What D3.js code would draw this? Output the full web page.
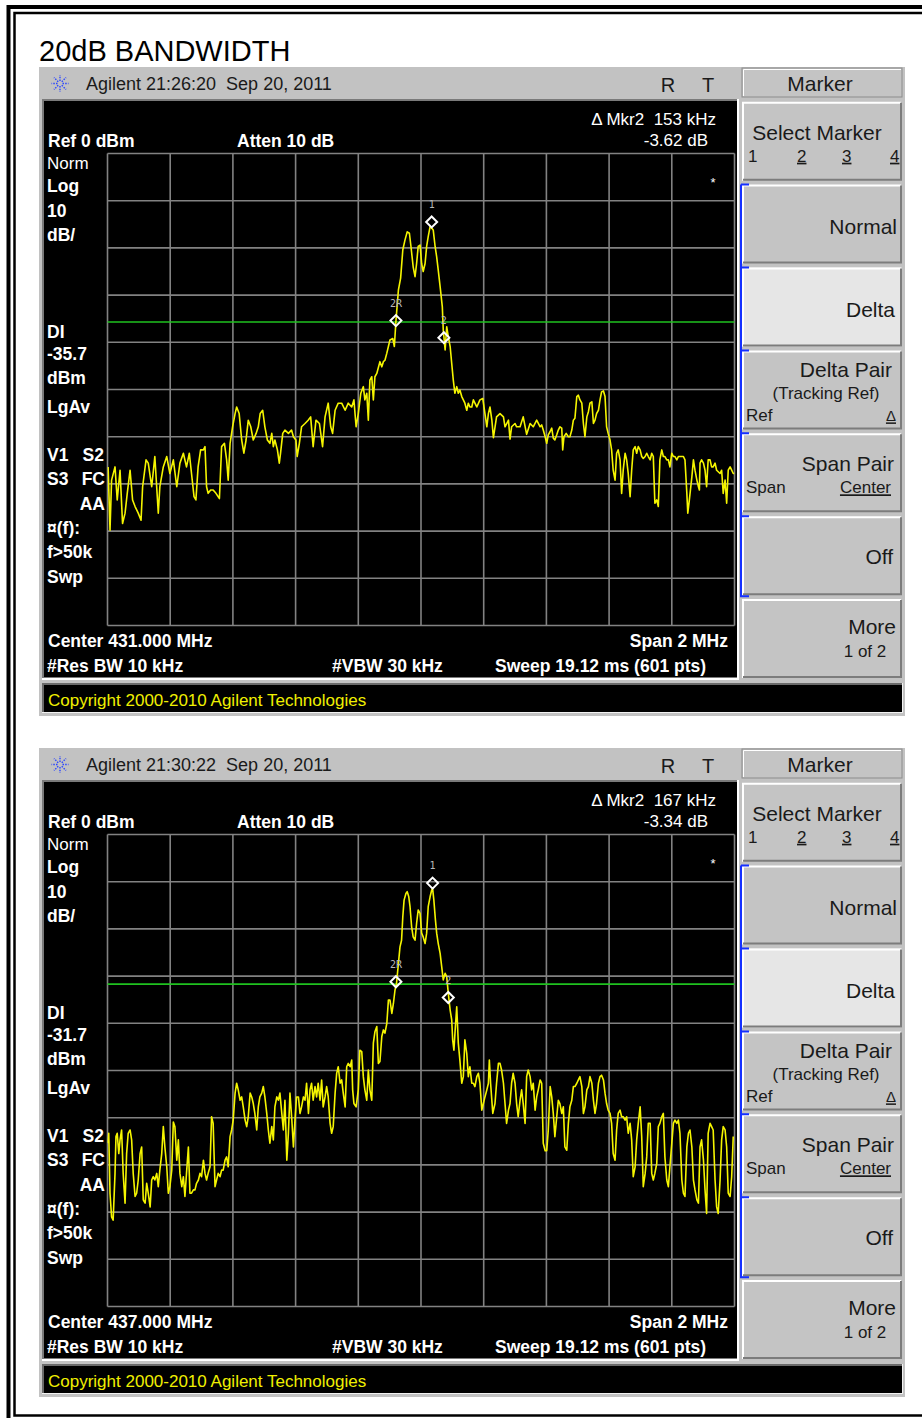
<!DOCTYPE html>
<html lang="en">
<head>
<meta charset="UTF-8">
<title>20dB Bandwidth</title>
<script src="https://d3js.org/d3.v7.min.js"></script>
<style>
  body { margin: 0; background: #fff; }
  svg { display: block; }
  text { font-family: "Liberation Sans", Arial, sans-serif; white-space: pre; }
</style>
</head>
<body>
<svg width="922" height="1418"></svg>
<script>
const times = ["21:26:20", "21:30:22"];
const centers = ["431.000", "437.000"];
const displayLines = [-35.7, -31.7];          // dBm
const deltaKhz = [153, 167];
const deltaDb = [-3.62, -3.34];
const marker1 = [[34, -14.5], [37, -10.3]];    // [kHz offset, dBm]
const marker2R = [[-80, -35.4], [-80, -31.2]];
const softkeys = ["Select Marker", "Normal", "Delta", "Delta Pair", "Span Pair", "Off", "More"];

// trace points: [kHz offset from center, dBm]
const trace1 = [[-998,-66.4],[-992,-79.8],[-987,-69.2],[-976,-66.4],[-969,-73.4],[-960,-67.1],[-952,-78.4],[-944,-76.2],[-937,-72.0],[-928,-67.1],[-920,-73.4],[-912,-74.8],[-902,-76.2],[-893,-77.7],[-888,-70.6],[-877,-64.9],[-870,-65.6],[-859,-70.6],[-849,-64.2],[-838,-76.2],[-833,-70.6],[-822,-66.4],[-811,-64.2],[-801,-67.8],[-790,-64.9],[-779,-70.6],[-769,-65.6],[-758,-63.5],[-748,-66.4],[-739,-63.5],[-732,-67.8],[-724,-72.7],[-718,-73.4],[-711,-66.4],[-703,-62.8],[-694,-62.8],[-689,-62.1],[-684,-70.6],[-679,-72.0],[-671,-71.3],[-663,-71.3],[-654,-72.0],[-643,-73.1],[-636,-62.1],[-627,-61.4],[-620,-64.9],[-615,-69.2],[-609,-61.4],[-601,-57.9],[-593,-55.1],[-588,-53.7],[-580,-55.1],[-572,-60.7],[-565,-63.5],[-558,-60.7],[-551,-56.5],[-543,-57.9],[-535,-60.7],[-526,-59.3],[-519,-57.9],[-513,-55.1],[-505,-54.4],[-498,-57.9],[-490,-60.7],[-482,-61.4],[-476,-59.3],[-471,-62.1],[-466,-60.7],[-458,-62.8],[-452,-65.6],[-448,-63.5],[-441,-59.3],[-434,-58.6],[-423,-59.3],[-413,-58.6],[-407,-60.0],[-399,-60.7],[-395,-64.2],[-388,-61.4],[-381,-57.9],[-370,-57.2],[-360,-56.5],[-352,-55.8],[-344,-62.1],[-335,-56.5],[-324,-57.2],[-314,-62.1],[-306,-55.8],[-296,-52.9],[-288,-57.9],[-282,-59.3],[-274,-54.4],[-264,-52.9],[-253,-52.9],[-242,-54.4],[-232,-52.9],[-221,-53.7],[-214,-52.2],[-207,-57.9],[-200,-55.1],[-192,-50.8],[-184,-49.4],[-179,-52.2],[-173,-50.8],[-168,-56.5],[-163,-48.0],[-157,-47.3],[-152,-52.2],[-147,-47.3],[-141,-46.6],[-131,-44.1],[-125,-45.2],[-120,-44.1],[-115,-43.8],[-109,-42.3],[-104,-40.9],[-99,-39.5],[-90,-39.2],[-85,-40.9],[-80,-35.6],[-78,-33.9],[-72,-28.9],[-65,-26.4],[-58,-20.4],[-51,-18.3],[-44,-16.6],[-37,-16.9],[-32,-19.7],[-25,-24.0],[-19,-26.1],[-14,-23.3],[-9,-19.7],[-3,-19.4],[2,-23.3],[7,-25.0],[13,-23.3],[18,-19.7],[23,-17.6],[29,-15.5],[34,-15.8],[39,-16.2],[45,-19.7],[50,-21.9],[55,-24.7],[61,-28.2],[68,-32.5],[71,-37.4],[77,-41.6],[82,-36.7],[87,-38.8],[93,-40.9],[98,-44.5],[103,-48.0],[108,-50.8],[114,-49.4],[119,-50.8],[124,-50.1],[130,-51.5],[135,-52.2],[140,-52.9],[146,-54.4],[151,-52.9],[156,-53.7],[162,-53.7],[167,-52.2],[178,-53.7],[188,-52.2],[197,-51.9],[204,-55.1],[210,-57.9],[215,-55.1],[220,-53.7],[226,-56.5],[231,-60.2],[241,-55.8],[252,-55.1],[263,-55.8],[268,-57.9],[279,-56.5],[284,-60.5],[289,-57.9],[300,-57.2],[305,-57.9],[316,-57.9],[326,-55.8],[337,-59.5],[348,-57.2],[358,-57.9],[369,-56.5],[380,-57.9],[385,-57.5],[390,-58.6],[396,-60.0],[401,-61.4],[406,-59.6],[412,-58.9],[417,-58.2],[422,-60.3],[427,-60.7],[433,-59.6],[438,-58.6],[443,-57.9],[449,-58.2],[452,-62.8],[456,-60.0],[463,-59.3],[470,-60.0],[475,-60.0],[481,-58.6],[486,-56.5],[491,-56.1],[497,-51.5],[502,-51.2],[507,-52.2],[513,-52.9],[518,-57.2],[523,-60.0],[529,-55.8],[534,-54.7],[539,-52.9],[545,-52.6],[550,-57.2],[555,-56.5],[560,-55.1],[566,-54.4],[571,-52.2],[576,-50.5],[582,-50.3],[587,-51.5],[592,-57.9],[597,-59.3],[603,-60.7],[608,-62.8],[613,-67.1],[619,-69.2],[624,-63.5],[629,-62.8],[635,-64.9],[640,-72.0],[645,-67.1],[651,-63.5],[656,-64.9],[661,-67.8],[667,-72.7],[672,-67.1],[677,-62.8],[683,-62.1],[688,-63.5],[693,-62.1],[699,-62.8],[704,-64.2],[709,-64.6],[715,-64.2],[720,-63.5],[725,-64.2],[731,-64.9],[736,-63.5],[741,-64.2],[746,-74.1],[752,-73.4],[757,-74.8],[762,-64.9],[768,-62.8],[773,-64.2],[778,-64.2],[784,-64.9],[789,-64.9],[794,-66.4],[800,-63.5],[805,-64.2],[810,-64.2],[816,-64.9],[821,-64.2],[826,-64.2],[837,-64.2],[842,-64.9],[848,-72.0],[851,-76.2],[856,-73.4],[864,-68.5],[869,-64.9],[874,-67.1],[880,-69.2],[885,-70.6],[888,-71.3],[890,-65.6],[895,-64.9],[901,-65.6],[906,-67.1],[911,-70.6],[916,-64.9],[922,-64.9],[927,-66.4],[932,-66.4],[938,-65.6],[943,-67.1],[954,-67.8],[959,-67.1],[964,-72.0],[970,-69.2],[975,-74.1],[980,-67.1],[986,-66.4],[991,-67.1],[996,-67.8],[1000,-67.8]];

const trace2 = [[-1000,-65.4],[-996,-63.3],[-992,-76.0],[-987,-81.0],[-982,-81.7],[-976,-71.8],[-973,-64.0],[-969,-63.3],[-964,-67.6],[-960,-64.7],[-955,-62.6],[-950,-71.8],[-944,-78.1],[-939,-67.6],[-934,-63.3],[-928,-62.6],[-923,-64.7],[-918,-71.8],[-912,-76.7],[-907,-76.0],[-902,-73.2],[-896,-67.6],[-891,-66.2],[-886,-77.4],[-880,-78.1],[-875,-73.9],[-870,-76.0],[-864,-78.9],[-859,-73.2],[-854,-72.5],[-849,-73.2],[-843,-71.8],[-838,-74.6],[-833,-71.1],[-827,-67.6],[-822,-61.9],[-817,-66.2],[-811,-70.4],[-806,-76.0],[-801,-74.6],[-795,-71.1],[-790,-60.9],[-785,-61.9],[-779,-69.0],[-774,-64.7],[-769,-71.8],[-763,-74.6],[-758,-72.5],[-753,-76.7],[-748,-71.8],[-742,-66.2],[-737,-76.0],[-732,-76.0],[-726,-75.3],[-721,-75.3],[-716,-73.9],[-710,-73.2],[-705,-71.8],[-700,-72.5],[-694,-69.0],[-689,-71.8],[-684,-73.2],[-679,-71.8],[-673,-70.4],[-668,-59.8],[-663,-61.2],[-657,-74.6],[-652,-73.2],[-647,-71.8],[-641,-72.5],[-636,-71.1],[-631,-71.1],[-625,-69.0],[-620,-68.3],[-615,-70.4],[-609,-64.0],[-604,-62.6],[-599,-60.5],[-593,-54.8],[-588,-52.7],[-583,-54.1],[-577,-56.3],[-572,-55.6],[-567,-57.7],[-561,-60.5],[-556,-61.9],[-551,-59.8],[-545,-54.8],[-540,-55.6],[-535,-57.0],[-530,-59.1],[-524,-62.6],[-519,-57.7],[-514,-55.6],[-508,-54.8],[-503,-53.4],[-498,-55.6],[-492,-59.1],[-487,-62.6],[-482,-65.4],[-476,-61.9],[-471,-64.7],[-466,-57.7],[-460,-55.6],[-455,-56.3],[-450,-54.8],[-444,-59.1],[-439,-62.6],[-434,-56.3],[-428,-69.0],[-423,-63.3],[-418,-54.8],[-412,-60.5],[-407,-66.2],[-402,-60.5],[-397,-55.6],[-391,-55.6],[-386,-59.1],[-381,-57.7],[-375,-55.6],[-370,-56.3],[-365,-52.7],[-359,-59.1],[-354,-54.1],[-349,-52.7],[-344,-56.3],[-338,-53.4],[-333,-55.6],[-328,-52.7],[-322,-56.3],[-317,-52.0],[-312,-57.7],[-306,-55.6],[-301,-53.4],[-296,-55.6],[-290,-61.2],[-285,-63.3],[-280,-61.9],[-274,-54.8],[-269,-50.6],[-264,-49.2],[-258,-52.7],[-253,-52.0],[-248,-54.8],[-242,-57.7],[-237,-49.2],[-232,-48.5],[-226,-49.2],[-221,-47.8],[-218,-54.1],[-214,-57.0],[-207,-57.7],[-200,-54.1],[-195,-45.7],[-189,-46.0],[-184,-51.3],[-179,-54.1],[-173,-56.3],[-168,-49.9],[-163,-54.1],[-157,-56.3],[-152,-44.2],[-147,-41.8],[-141,-40.7],[-136,-48.5],[-131,-48.1],[-125,-42.8],[-120,-41.4],[-115,-42.1],[-109,-40.0],[-104,-35.1],[-99,-35.1],[-93,-37.9],[-88,-35.8],[-83,-33.0],[-78,-31.5],[-72,-27.3],[-67,-23.8],[-62,-22.4],[-58,-17.4],[-54,-13.9],[-48,-12.5],[-44,-12.1],[-39,-13.2],[-35,-15.3],[-30,-19.5],[-25,-21.7],[-19,-22.4],[-14,-18.8],[-9,-16.0],[-3,-16.7],[2,-20.9],[7,-21.7],[13,-23.1],[18,-20.9],[23,-15.3],[29,-13.2],[34,-11.8],[37,-11.4],[41,-13.9],[46,-18.1],[50,-20.9],[55,-23.1],[61,-25.2],[66,-28.0],[71,-30.8],[77,-29.4],[82,-30.1],[87,-33.6],[93,-37.2],[98,-39.3],[101,-43.5],[105,-45.7],[109,-41.4],[114,-36.5],[119,-44.2],[124,-47.8],[130,-52.7],[135,-51.3],[140,-43.5],[146,-46.4],[151,-51.3],[156,-49.2],[162,-52.7],[167,-52.7],[172,-53.4],[178,-51.3],[183,-50.6],[188,-52.7],[194,-58.4],[199,-57.0],[204,-55.6],[210,-54.1],[215,-52.7],[218,-47.8],[222,-52.7],[229,-59.1],[236,-57.0],[241,-52.7],[247,-48.5],[252,-48.5],[257,-49.9],[263,-52.7],[268,-57.0],[273,-61.2],[279,-58.4],[284,-57.0],[289,-52.7],[294,-50.6],[300,-52.7],[305,-57.0],[310,-59.8],[316,-56.3],[321,-54.1],[326,-57.0],[332,-61.2],[337,-51.3],[342,-49.9],[348,-51.3],[353,-54.1],[358,-52.7],[364,-58.4],[369,-55.6],[374,-54.1],[380,-52.0],[385,-52.7],[390,-65.4],[396,-67.0],[401,-67.0],[406,-62.6],[412,-53.4],[417,-55.6],[422,-59.1],[427,-64.0],[433,-59.8],[438,-56.3],[443,-57.0],[449,-59.1],[454,-57.7],[459,-66.2],[465,-66.9],[470,-61.2],[475,-57.7],[481,-56.3],[486,-53.4],[491,-53.4],[497,-52.7],[502,-52.0],[507,-51.3],[513,-53.4],[518,-59.1],[523,-57.7],[529,-54.1],[534,-53.4],[539,-51.3],[545,-52.7],[550,-56.3],[555,-59.1],[560,-57.0],[566,-52.7],[571,-51.3],[576,-51.0],[582,-52.0],[587,-54.8],[592,-57.0],[597,-58.4],[603,-59.1],[608,-61.2],[613,-67.6],[619,-69.0],[624,-62.6],[629,-59.1],[635,-58.4],[640,-59.8],[645,-59.8],[651,-60.5],[656,-59.8],[661,-63.3],[667,-61.2],[672,-64.7],[677,-72.5],[683,-70.4],[688,-64.7],[693,-61.2],[699,-57.7],[704,-64.0],[709,-74.6],[715,-71.8],[720,-68.3],[725,-61.2],[731,-61.2],[736,-71.8],[741,-73.2],[746,-71.8],[752,-69.7],[757,-61.9],[762,-61.2],[768,-59.8],[773,-59.1],[778,-68.3],[784,-73.2],[789,-74.6],[794,-70.4],[800,-65.4],[805,-61.2],[810,-60.5],[816,-61.2],[821,-60.5],[826,-63.3],[832,-73.2],[837,-76.0],[842,-76.7],[848,-66.2],[853,-63.3],[858,-62.6],[864,-66.2],[869,-73.2],[874,-75.3],[880,-77.4],[885,-78.1],[890,-66.2],[895,-64.7],[901,-69.0],[906,-75.3],[911,-80.3],[916,-63.3],[922,-61.2],[927,-61.9],[932,-62.6],[938,-73.2],[943,-78.9],[948,-80.3],[954,-73.2],[959,-64.7],[964,-61.9],[970,-62.6],[975,-66.2],[980,-76.0],[986,-76.7],[991,-72.5],[996,-64.0]];

const traces = [trace1, trace2];

const svg = d3.select("svg");
svg.append("rect").attr("width", 922).attr("height", 1418).attr("fill", "#fff");

// double page border
svg.append("rect").attr("x", 8.5).attr("y", 7).attr("width", 940).attr("height", 1430)
  .attr("fill", "none").attr("stroke", "#000").attr("stroke-width", 4);
svg.append("rect").attr("x", 14.5).attr("y", 13).attr("width", 930).attr("height", 1402.5)
  .attr("fill", "none").attr("stroke", "#000").attr("stroke-width", 2.5);

svg.append("text").attr("x", 39).attr("y", 61).attr("font-size", 29).attr("fill", "#000")
  .text("20dB BANDWIDTH");

function label(g, x, y, s, o = {}) {
  return g.append("text").attr("x", x).attr("y", y).text(s)
    .attr("font-size", o.size || 17.5)
    .attr("font-weight", o.bold ? "bold" : null)
    .attr("text-anchor", o.anchor || "start")
    .attr("fill", o.fill || "#fff")
    .attr("text-decoration", o.underline ? "underline" : null);
}

// scales shared by both screens (local panel coords)
const x = d3.scaleLinear().domain([-1000, 1000]).range([107.5, 734.5]);
const y = d3.scaleLinear().domain([-100, 0]).range([625.5, 153.5]);

function drawPanel(i, dy) {
  const g = svg.append("g").attr("transform", `translate(0,${dy})`);

  // gray instrument frame
  g.append("rect").attr("x", 39).attr("y", 67).attr("width", 866).attr("height", 649).attr("fill", "#c2c2c2");

  // title bar
  const logo = g.append("g").attr("transform", "translate(60,83.5)");
  d3.range(8).forEach(k => {
    const a = k * Math.PI / 4;
    logo.append("line")
      .attr("x1", Math.cos(a) * 2.5).attr("y1", Math.sin(a) * 2.5)
      .attr("x2", Math.cos(a) * 8.5).attr("y2", Math.sin(a) * 8.5)
      .attr("stroke", "#2b45ff").attr("stroke-width", 1.4).attr("stroke-dasharray", "1.5,1.2");
  });
  label(g, 86, 90, "Agilent " + times[i] + "  Sep 20, 2011", { size: 18, fill: "#1a1a1a" });
  label(g, 668, 92, "R", { size: 20, fill: "#1a1a1a", anchor: "middle" });
  label(g, 708, 92, "T", { size: 20, fill: "#1a1a1a", anchor: "middle" });

  // screen
  g.append("rect").attr("x", 42).attr("y", 99).attr("width", 697).attr("height", 581).attr("fill", "#fff");
  g.append("rect").attr("x", 42).attr("y", 99).attr("width", 695).attr("height", 579).attr("fill", "#7a7a7a");
  g.append("rect").attr("x", 44).attr("y", 101).attr("width", 693).attr("height", 576).attr("fill", "#000");

  // copyright bar
  g.append("rect").attr("x", 42).attr("y", 683).attr("width", 861).attr("height", 30).attr("fill", "#f2f2f2");
  g.append("rect").attr("x", 42).attr("y", 683).attr("width", 860).attr("height", 29).attr("fill", "#6a6a6a");
  g.append("rect").attr("x", 44).attr("y", 685).attr("width", 858).attr("height", 27).attr("fill", "#000");
  label(g, 48, 706, "Copyright 2000-2010 Agilent Technologies", { size: 17, fill: "#f0f000" });

  // graticule
  const grid = g.append("g").attr("stroke", "#828282").attr("stroke-width", 1.6);
  grid.selectAll(".vx").data(x.ticks(10)).join("line")
    .attr("x1", d => x(d)).attr("x2", d => x(d)).attr("y1", y(0)).attr("y2", y(-100));
  grid.selectAll(".hy").data(y.ticks(10)).join("line")
    .attr("y1", d => y(d)).attr("y2", d => y(d)).attr("x1", x(-1000)).attr("x2", x(1000));

  // display line
  g.append("line").attr("x1", x(-1000)).attr("x2", x(1000))
    .attr("y1", y(displayLines[i])).attr("y2", y(displayLines[i]))
    .attr("stroke", "#1fc21f").attr("stroke-width", 1.6);

  // trace
  const clipId = "clip" + i;
  g.append("clipPath").attr("id", clipId).append("rect")
    .attr("x", x(-1000)).attr("y", y(0)).attr("width", x(1000) - x(-1000)).attr("height", y(-100) - y(0));
  g.append("path").datum(traces[i])
    .attr("clip-path", `url(#${clipId})`)
    .attr("fill", "none").attr("stroke", "#f5f500").attr("stroke-width", 1.6)
    .attr("stroke-linejoin", "round")
    .attr("d", d3.line().x(d => x(d[0])).y(d => y(d[1])));

  // markers
  const m2 = [marker2R[i][0] + deltaKhz[i], marker2R[i][1] + deltaDb[i]];
  const mk = [[marker1[i], "1"], [marker2R[i], "2R"], [m2, "2"]];
  mk.forEach(([p, name]) => {
    const cx = x(p[0]), cy = y(p[1]);
    g.append("path")
      .attr("d", `M${cx},${cy - 5.5}L${cx + 5.5},${cy}L${cx},${cy + 5.5}L${cx - 5.5},${cy}Z`)
      .attr("fill", "none").attr("stroke", "#fff").attr("stroke-width", 2);
    label(g, cx, cy - 14, name, { size: 10, fill: "#b8b8b8", anchor: "middle" })
      .style("font-family", "'DejaVu Sans Mono', monospace");
  });

  // screen annotations
  label(g, 48, 147, "Ref 0 dBm", { bold: true });
  label(g, 237, 147, "Atten 10 dB", { bold: true });
  label(g, 716, 125, "\u0394 Mkr2  " + deltaKhz[i] + " kHz", { size: 17, anchor: "end" });
  label(g, 708, 146, deltaDb[i].toFixed(2) + " dB", { size: 17, anchor: "end" });
  label(g, 713, 187, "*", { size: 13, anchor: "middle" });

  label(g, 47, 169, "Norm", { size: 17 });
  const left = [["Log", 192], ["10", 217], ["dB/", 241], ["DI", 338],
    [displayLines[i].toFixed(1), 360], ["dBm", 384], ["LgAv", 413], ["V1", 461], ["S3", 485],
    ["\u00a4(f):", 534], ["f>50k", 558], ["Swp", 583]];
  left.forEach(([s, yy]) => label(g, 47, yy, s, { bold: true }));
  label(g, 104, 461, "S2", { bold: true, anchor: "end" });
  label(g, 105, 485, "FC", { bold: true, anchor: "end" });
  label(g, 105, 510, "AA", { bold: true, anchor: "end" });

  label(g, 48, 647, "Center " + centers[i] + " MHz", { bold: true });
  label(g, 47, 672, "#Res BW 10 kHz", { bold: true });
  label(g, 332, 672, "#VBW 30 kHz", { bold: true });
  label(g, 728, 647, "Span 2 MHz", { bold: true, anchor: "end" });
  label(g, 495, 672, "Sweep 19.12 ms (601 pts)", { bold: true });

  // softkey panel
  g.append("rect").attr("x", 742).attr("y", 68).attr("width", 160).attr("height", 29)
    .attr("fill", "#c4c4c4").attr("stroke", "#8c8c8c").attr("stroke-width", 1);
  g.append("path").attr("d", "M743.5,96V69.5H901").attr("stroke", "#fff").attr("fill", "none");
  label(g, 820, 91, "Marker", { size: 21, fill: "#1a1a1a", anchor: "middle" });

  softkeys.forEach((name, k) => {
    const top = 101.7 + 82.9 * k, h = 79;
    g.append("rect").attr("x", 742).attr("y", top).attr("width", 160).attr("height", h)
      .attr("fill", name === "Delta" ? "#e6e6e6" : "#c4c4c4");
    g.append("path").attr("d", `M743,${top + h}V${top + 1}H901`)
      .attr("stroke", "#fff").attr("stroke-width", 2).attr("fill", "none");
    g.append("path").attr("d", `M743,${top + h - 1}H901V${top + 1}`)
      .attr("stroke", "#7c7c7c").attr("stroke-width", 2).attr("fill", "none");
  });
  const kt = k => 101.7 + 82.9 * k;
  const dk = { fill: "#1a1a1a" };
  label(g, 817, kt(0) + 38, "Select Marker", { ...dk, size: 21, anchor: "middle" });
  label(g, 748, kt(0) + 60, "1", { ...dk, size: 17 });
  ["2", "3", "4"].forEach((s, j) => label(g, [797, 842, 890][j], kt(0) + 60, s, { ...dk, size: 17, underline: true }));
  label(g, 897, kt(1) + 49, "Normal", { ...dk, size: 21, anchor: "end" });
  label(g, 895, kt(2) + 49, "Delta", { ...dk, size: 21, anchor: "end" });
  label(g, 892, kt(3) + 27, "Delta Pair", { ...dk, size: 21, anchor: "end" });
  label(g, 826, kt(3) + 49, "(Tracking Ref)", { ...dk, size: 17, anchor: "middle" });
  label(g, 746, kt(3) + 71, "Ref", { ...dk, size: 17 });
  label(g, 896, kt(3) + 71, "\u0394", { ...dk, size: 15, anchor: "end", underline: true });
  label(g, 894, kt(4) + 38, "Span Pair", { ...dk, size: 21, anchor: "end" });
  label(g, 746, kt(4) + 60, "Span", { ...dk, size: 17 });
  label(g, 891, kt(4) + 60, "Center", { ...dk, size: 17, anchor: "end", underline: true });
  label(g, 893, kt(5) + 48, "Off", { ...dk, size: 21, anchor: "end" });
  label(g, 896, kt(6) + 35, "More", { ...dk, size: 21, anchor: "end" });
  label(g, 865, kt(6) + 58, "1 of 2", { ...dk, size: 17, anchor: "middle" });

  // blue bracket along the active keys
  let bd = `M741,${kt(1)}V${kt(5) + 80}h8`;
  for (let k = 1; k <= 5; k++) bd += `M741,${kt(k)}h8`;
  g.append("path").attr("d", bd).attr("stroke", "#1530ff").attr("stroke-width", 2).attr("fill", "none");
}

drawPanel(0, 0);
drawPanel(1, 681);
</script>
</body>
</html>
